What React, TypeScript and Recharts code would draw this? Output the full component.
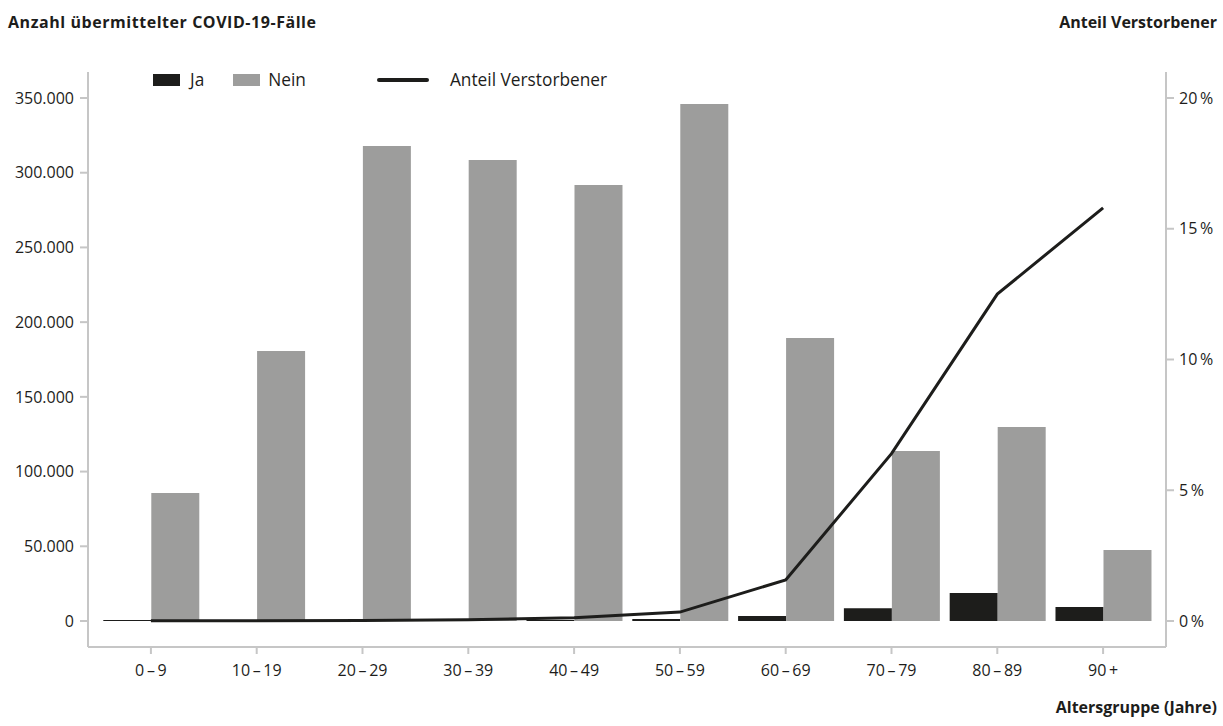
import React from "react";
import { ComposedChart, Bar, Line, XAxis, YAxis } from "recharts";

// Altersgruppen
const ageGroups = ["0\u2009\u2013\u20099", "10\u2009\u2013\u200919", "20\u2009\u2013\u200929", "30\u2009\u2013\u200939", "40\u2009\u2013\u200949", "50\u2009\u2013\u200959", "60\u2009\u2013\u200969", "70\u2009\u2013\u200979", "80\u2009\u2013\u200989", "90\u2009+"];
// verstorben: ja / nein
const deceasedYes = [5, 6, 30, 80, 320, 1300, 3400, 8500, 18700, 9300];
const deceasedNo = [85700, 180700, 317900, 308500, 291800, 346000, 189400, 113800, 129800, 47500];
// Anteil Verstorbener in %
const deathShare = [0.01, 0.01, 0.02, 0.05, 0.12, 0.34, 1.57, 6.4, 12.5, 15.8];

const leftTicks = [0, 50000, 100000, 150000, 200000, 250000, 300000, 350000];
const rightTicks = [0, 5, 10, 15, 20];

const data = ageGroups.map((g, i) => ({
  group: g,
  ja: deceasedYes[i],
  nein: deceasedNo[i],
  anteil: deathShare[i],
}));

const BLACK = "#1d1d1b";
const GREY = "#9d9d9c";
const AXIS = "#c6c6c6";
const FONT = "'Open Sans', Lato, sans-serif";

const fmtThousands = (v: number) => String(v).replace(/\B(?=(\d{3})+(?!\d))/g, ".");
const fmtPct = (v: number) => `${v}\u2009%`;

const tickStyle = { fontFamily: FONT, fontSize: 16, fill: BLACK };

const titleStyle: React.CSSProperties = {
  position: "absolute",
  fontFamily: FONT,
  fontWeight: 700,
  fontSize: 16,
  color: BLACK,
  lineHeight: "20px",
  whiteSpace: "nowrap",
};

const Legend = () => (
  <div
    style={{
      position: "absolute",
      left: 153,
      top: 69,
      display: "flex",
      alignItems: "center",
      fontFamily: FONT,
      fontSize: 17.3,
      lineHeight: "22px",
      color: BLACK,
    }}
  >
    <span style={{ width: 27, height: 12, background: BLACK, display: "inline-block" }} />
    <span style={{ marginLeft: 10, marginRight: 29 }}>Ja</span>
    <span style={{ width: 27, height: 12, background: GREY, display: "inline-block" }} />
    <span style={{ marginLeft: 8, marginRight: 71 }}>Nein</span>
    <span style={{ width: 52, height: 4, background: BLACK, display: "inline-block", borderRadius: 2 }} />
    <span style={{ marginLeft: 21 }}>Anteil Verstorbener</span>
  </div>
);

export default function App() {
  return (
    <div style={{ position: "absolute", left: 0, top: 0, width: 1223, height: 726, background: "#fff" }}>
      <ComposedChart
        width={1223}
        height={726}
        data={data}
        margin={{ top: 72, right: 0, bottom: 49, left: 8 }}
        barGap={0}
        barCategoryGap="5%"
      >
        <XAxis
          dataKey="group"
          padding={{ left: 10, right: 10 }}
          height={30}
          tick={tickStyle}
          stroke={AXIS}
          strokeWidth={2}
          tickLine={{ stroke: AXIS, strokeWidth: 2 }}
          tickSize={7}
          tickMargin={11}
        />
        <YAxis
          yAxisId="left"
          orientation="left"
          width={80}
          domain={[0, 350000]}
          ticks={leftTicks}
          interval={0}
          padding={{ top: 26, bottom: 26 }}
          tickFormatter={fmtThousands}
          tick={tickStyle}
          stroke={AXIS}
          strokeWidth={2}
          tickLine={{ stroke: AXIS, strokeWidth: 2 }}
          tickSize={8}
          tickMargin={6}
        />
        <YAxis
          yAxisId="right"
          orientation="right"
          width={57}
          domain={[0, 20]}
          ticks={rightTicks}
          interval={0}
          padding={{ top: 26, bottom: 26 }}
          tickFormatter={fmtPct}
          tick={tickStyle}
          stroke={AXIS}
          strokeWidth={2}
          tickLine={{ stroke: AXIS, strokeWidth: 2 }}
          tickSize={8}
          tickMargin={5}
        />
        <Bar yAxisId="left" dataKey="ja" name="Ja" fill={BLACK} minPointSize={1} isAnimationActive={false} />
        <Bar yAxisId="left" dataKey="nein" name="Nein" fill={GREY} isAnimationActive={false} />
        <Line
          yAxisId="right"
          dataKey="anteil"
          name="Anteil Verstorbener"
          type="linear"
          stroke={BLACK}
          strokeWidth={3}
          dot={false}
          activeDot={false}
          isAnimationActive={false}
        />
      </ComposedChart>
      <div style={{ ...titleStyle, left: 8, top: 12, letterSpacing: 0.55 }}>Anzahl übermittelter COVID-19-Fälle</div>
      <div style={{ ...titleStyle, right: 6, top: 12 }}>Anteil Verstorbener</div>
      <div style={{ ...titleStyle, right: 6, top: 697 }}>Altersgruppe (Jahre)</div>
      <Legend />
    </div>
  );
}
